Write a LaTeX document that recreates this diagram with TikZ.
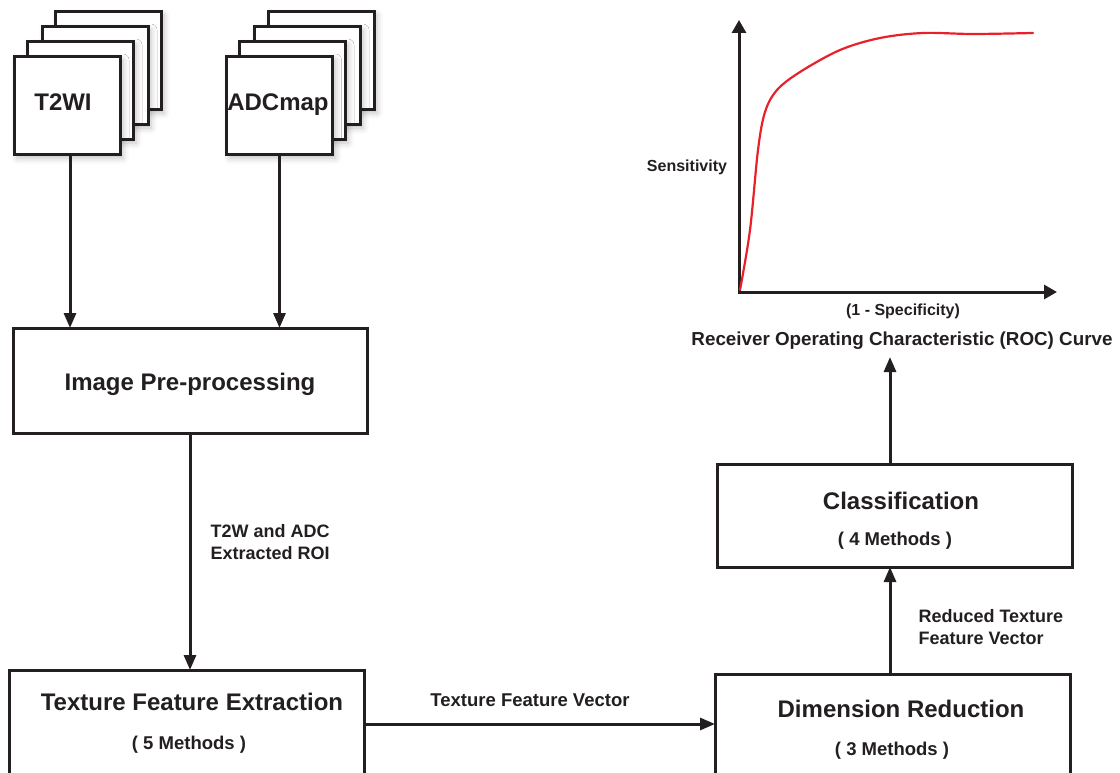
\documentclass[tikz,border=0pt]{standalone}
\usepackage{fontspec}
\setmainfont{Liberation Sans}
\usetikzlibrary{arrows.meta,shadows.blur}

\definecolor{ink}{HTML}{231F20}
\definecolor{roccurve}{HTML}{E8202A}

\begin{document}
\begin{tikzpicture}[x=1pt,y=-1pt,
  every node/.style={text=ink},
  frame/.style={draw=ink, line width=3pt, fill=white, inner sep=0pt, outer sep=0pt},
  slice/.style={frame, minimum width=106pt, minimum height=98pt,
    blur shadow={shadow xshift=3pt, shadow yshift=-3pt, shadow blur radius=6pt, shadow opacity=25}},
  stage/.style={frame, minimum width=355pt},
  arr/.style={draw=ink, line width=3pt, -{Triangle[length=15pt,width=12pt]}},
  axis/.style={draw=ink, line width=3pt, line join=miter,
    {Triangle[length=13pt,width=14pt]}-{Triangle[length=13pt,width=14pt]}},
  title/.style={anchor=base, font=\bfseries\fontsize{24}{28}\selectfont},
  methods/.style={anchor=base, font=\bfseries\fontsize{18.5}{22}\selectfont},
  flowlabel/.style={anchor=base west, align=left, font=\bfseries\fontsize{18}{21.5}\selectfont},
  axislabel/.style={anchor=base, font=\bfseries\fontsize{16}{19}\selectfont}
]
\useasboundingbox (0,0) rectangle (1120,773);
\clip (0,0) rectangle (1120,773);

% image stacks (back to front)
\node[slice] (t2d) at (108,61) {};
\node[slice] (t2c) at (95,76) {};
\node[slice] (t2b) at (80,91) {};
\node[slice] (t2) at (67,106) {};
\node[title] (t2txt) at (63,111) {T2WI};

\node[slice] (adcd) at (321,61) {};
\node[slice] (adcc) at (307,76) {};
\node[slice] (adcb) at (292,91) {};
\node[slice] (adc) at (279.5,106) {};
\node[title] (adctxt) at (278,111) {ADCmap};

% processing stages
\node[stage, minimum width=354pt, minimum height=105pt] (pre) at (190,380.5) {};
\node[title] (pretxt) at (190,390) {Image Pre-processing};

\node[stage, minimum height=108pt] (tfe) at (186.5,724) {};
\node[title] (tfetxt) at (192,710) {Texture Feature Extraction};
\node[methods] (tfem) at (189,749) {( 5 Methods )};

\node[stage, minimum height=100pt] (dr) at (892.5,724) {};
\node[title] (drtxt) at (901,717) {Dimension Reduction};
\node[methods] (drm) at (892,755) {( 3 Methods )};

\node[stage, minimum height=103pt] (cls) at (894.5,515.5) {};
\node[title] (clstxt) at (901,509) {Classification};
\node[methods] (clsm) at (895,545) {( 4 Methods )};

% flow arrows
\draw[arr] ([xshift=3pt]t2.south) -- ([xshift=3pt]t2.south |- pre.north);
\draw[arr] (adc.south) -- (adc.south |- pre.north);
\draw[arr] (pre.south) -- (pre.south |- tfe.north);
\draw[arr] (tfe.east) -- (dr.west);
\draw[arr] ([xshift=-2.5pt]dr.north) -- ([xshift=-2.5pt]dr.north |- cls.south);
\coordinate (roctip) at (890,357);
\draw[arr] ([xshift=-4.5pt]cls.north) -- (roctip);

% flow labels (base anchor sits on the last line)
\node[flowlabel] (roi) at (207,559) {T2W and ADC\\Extracted ROI};
\node[methods] (tfv) at (530,706) {Texture Feature Vector};
\node[flowlabel] (rtfv) at (915,644) {Reduced Texture\\Feature Vector};

% ROC plot
\coordinate (O) at (739,292);
\coordinate (ytip) at (739,20);
\coordinate (xtip) at (1057,292);
\draw[axis] (ytip) -- (O) -- (xtip);
\draw[roccurve, line width=2.2pt, line cap=round]
  plot[smooth, tension=0.55] coordinates {(740,290) (750,230) (758,150) (765,112) (777,90) (800,72) (840,50) (880,38) (923,33) (973,34) (1033,33)};
\node[axislabel] (sens) at (687,172) {Sensitivity};
\node[axislabel] (spec) at (903,315) {(1 - Specificity)};
\node[methods, font=\bfseries\fontsize{18.8}{22}\selectfont] (roc) at (902,345) {Receiver Operating Characteristic (ROC) Curve};
\end{tikzpicture}
\end{document}
